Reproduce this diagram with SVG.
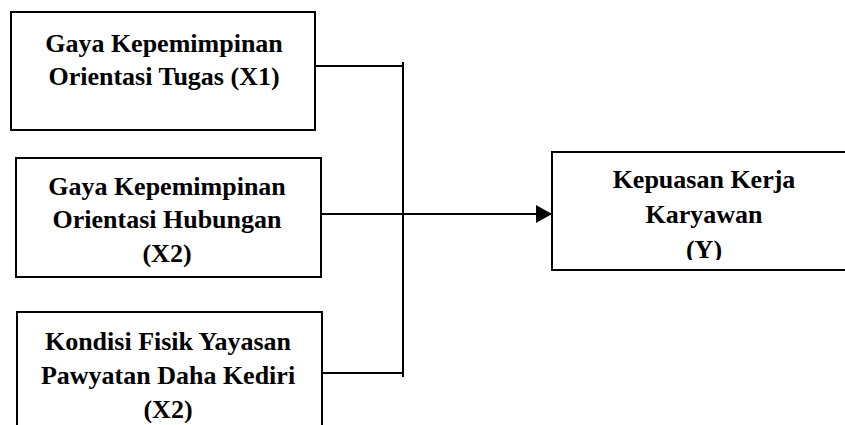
<svg xmlns="http://www.w3.org/2000/svg" width="845" height="425" viewBox="0 0 845 425">
  <style>
    .box { fill: #ffffff; stroke: #000000; stroke-width: 2; }
    .lbl { font-family: "Liberation Serif", "Times New Roman", serif; font-weight: bold; font-size: 26px; fill: #000000; text-anchor: middle; }
    .conn { fill: none; stroke: #000000; stroke-width: 2; }
  </style>
  <defs>
    <marker id="arrow" markerUnits="userSpaceOnUse" markerWidth="16" markerHeight="18" refX="16" refY="9" orient="auto">
      <path d="M0,0 L16,9 L0,18 Z" fill="#000000"/>
    </marker>
    <clipPath id="clipX2"><rect x="16" y="158" width="305" height="109"/></clipPath>
    <clipPath id="clipX3"><rect x="17" y="312" width="305" height="111"/></clipPath>
    <clipPath id="clipY"><rect x="552" y="152" width="300" height="108"/></clipPath>
  </defs>
  <rect width="845" height="425" fill="#ffffff"/>

  <g id="node-x1">
    <rect class="box" x="11" y="12" width="304" height="118"/>
    <text class="lbl" x="164" y="52">Gaya Kepemimpinan</text>
    <text class="lbl" x="164" y="85">Orientasi Tugas (X1)</text>
  </g>

  <g id="node-x2">
    <rect class="box" x="16" y="158" width="305" height="119"/>
    <g clip-path="url(#clipX2)">
      <text class="lbl" x="167" y="195">Gaya Kepemimpinan</text>
      <text class="lbl" x="167" y="228">Orientasi Hubungan</text>
      <text class="lbl" x="167" y="262">(X2)</text>
    </g>
  </g>

  <g id="node-x3">
    <rect class="box" x="17" y="312" width="305" height="125"/>
    <g clip-path="url(#clipX3)">
      <text class="lbl" x="168" y="350">Kondisi Fisik Yayasan</text>
      <text class="lbl" x="168" y="384">Pawyatan Daha Kediri</text>
      <text class="lbl" x="168" y="418">(X2)</text>
    </g>
  </g>

  <g id="node-y">
    <rect class="box" x="552" y="152" width="310" height="118"/>
    <g clip-path="url(#clipY)">
      <text class="lbl" x="704" y="188">Kepuasan Kerja</text>
      <text class="lbl" x="704" y="223">Karyawan</text>
      <text class="lbl" x="704" y="258">(Y)</text>
    </g>
  </g>

  <g id="connectors">
    <line class="conn" x1="315" y1="66" x2="403" y2="66"/>
    <line class="conn" x1="403" y1="62" x2="403" y2="377"/>
    <line class="conn" x1="322" y1="373" x2="403" y2="373"/>
    <line class="conn" x1="321" y1="214" x2="552" y2="214" marker-end="url(#arrow)"/>
  </g>
</svg>
